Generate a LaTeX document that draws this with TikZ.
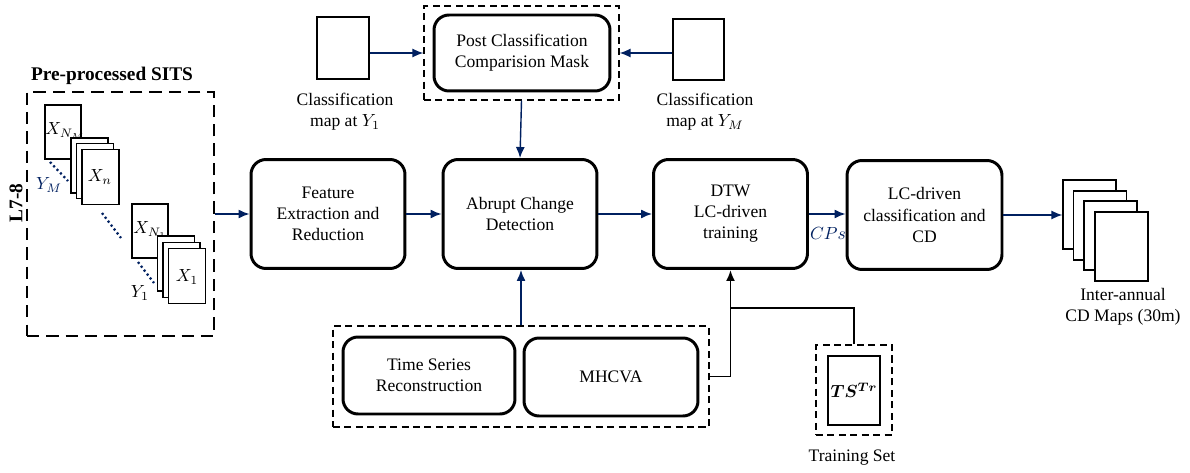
\documentclass[tikz,border=0pt]{standalone}
\usepackage{amsmath}
\usepackage{bm}
\usepackage{fontspec}
\setmainfont{Liberation Serif}
\usetikzlibrary{arrows.meta}

\definecolor{navy}{RGB}{0,32,96}

\tikzset{
  procbox/.style={draw, line width=1.7pt, rounded corners=0.3cm, align=center,
    minimum width=3.08cm, minimum height=2.18cm, font=\fontsize{10}{12}\selectfont},
  dashbox/.style={draw, dashed, line width=0.7pt, dash pattern=on 4pt off 2.5pt,
    minimum width=#1},
  frame/.style={draw, fill=white, line width=0.7pt, inner sep=0pt},
  lbl/.style={align=center, font=\fontsize{10}{12}\selectfont},
  navyarrow/.style={draw=navy, line width=0.8pt, -{Latex[length=2.2mm,width=1.8mm]}},
  blackarrow/.style={draw=black, line width=1.1pt, -{Latex[length=2.2mm,width=1.8mm]}},
  dotline/.style={draw=navy, line width=1.3pt, dash pattern=on 1.2pt off 1.6pt},
}

\begin{document}
\begin{tikzpicture}[x=0.02cm, y=-0.02cm]
  \useasboundingbox (0,0) rectangle (1190,473);

  % Input SITS stack
  \node[draw, line width=1.4pt, dash pattern=on 7pt off 4pt, minimum width=3.74cm,
    minimum height=4.88cm] (sitsbox) at (120.5,214) {};
  \node[lbl, font=\fontsize{11}{13}\selectfont\bfseries] (sitstitle) at (112,76) {Pre-processed SITS};
  \node[lbl, font=\fontsize{11}{13}\selectfont\bfseries, rotate=90] (sensor) at (16,203) {L7-8};

  \node[frame, minimum width=0.72cm, minimum height=1.08cm] (fNM) at (63,132) {};
  \node[anchor=west, inner sep=0pt] (lNM) at (45,131) {$X_{N_M}$};
  \foreach \i/\x/\y in {0/89.5/165.5, 1/95/171, 2/100.5/177}
    \node[frame, minimum width=0.74cm, minimum height=1.1cm] (fn\i) at (\x,\y) {};
  \node (ln) at (100,177) {$X_n$};

  \node[frame, minimum width=0.72cm, minimum height=1.08cm] (fN1) at (150,231) {};
  \node[anchor=west, inner sep=0pt] (lN1) at (133,230) {$X_{N_1}$};
  \foreach \i/\x/\y in {0/176/263.5, 1/181.5/270, 2/187/276}
    \node[frame, minimum width=0.74cm, minimum height=1.1cm] (fo\i) at (\x,\y) {};
  \node (lo) at (187,277) {$X_1$};

  \draw[dotline] (50,162) -- (68,181);
  \draw[dotline] (102,213) -- (121,238);
  \draw[dotline] (138,262) -- (154,283);
  \node[text=navy] (lYM) at (49,185) {$Y_M$};
  \node (lY1) at (140,293) {$Y_1$};

  % Post classification mask
  \node[dashbox=3.9cm, minimum height=1.88cm] (pcbox) at (521.5,53) {};
  \node[procbox, minimum width=3.52cm, minimum height=1.52cm] (post) at (522,53)
    {Post Classification\\Comparision Mask};
  \node[frame, minimum width=1.04cm, minimum height=1.24cm] (cmA) at (343,48) {};
  \node[lbl] (cmAl) at (345,112) {Classification\\map at $Y_1$};
  \node[frame, minimum width=1.02cm, minimum height=1.22cm] (cmB) at (698.5,49.5) {};
  \node[lbl] (cmBl) at (705,112) {Classification\\map at $Y_M$};

  % Main chain
  \node[procbox] (feat) at (328,214) {Feature\\Extraction and\\Reduction};
  \node[procbox] (abrupt) at (520,214) {Abrupt Change\\Detection};
  \node[procbox] (dtw) at (730.5,214) {DTW\\LC-driven\\training};
  \node[procbox, minimum width=3.1cm] (lccd) at (924.5,215) {LC-driven\\classification and\\CD};

  % Output maps
  \foreach \i/\x/\y in {0/1089.5/214.5, 1/1100/225.5, 2/1110.5/235.5, 3/1121.5/246.5}
    \node[frame, minimum width=1.06cm, minimum height=1.38cm] (map\i) at (\x,\y) {};
  \node[lbl] (mapl) at (1123,307) {Inter-annual\\CD Maps (30m)};

  % Reconstruction and MHCVA
  \node[dashbox=7.52cm, minimum height=2.02cm] (recbox) at (521,376.5) {};
  \node[procbox, minimum width=3.44cm, minimum height=1.54cm] (tsr) at (429,375.5)
    {Time Series\\Reconstruction};
  \node[procbox, minimum width=3.48cm, minimum height=1.56cm] (mhcva) at (611,377) {MHCVA};

  % Training set
  \node[dashbox=1.52cm, minimum height=1.8cm] (trbox) at (854,390) {};
  \node[frame, minimum width=1.04cm, minimum height=1.38cm] (trset) at (854,390.5)
    {$\bm{TS^{Tr}}$};
  \node[lbl] (trl) at (852,458) {Training Set};
  \coordinate (join) at (730.5,308);

  % Edges
  \draw[navyarrow] (sitsbox.east) -- (feat.west);
  \draw[navyarrow] (feat) -- (abrupt);
  \draw[navyarrow] (abrupt) -- (dtw);
  \draw[navyarrow] (dtw.east) -- (dtw.east -| lccd.west);
  \node[text=navy] (cps) at (828,233) {$CPs$};
  \draw[navyarrow] (lccd.east) -- (lccd.east -| map0.west);
  \draw[navyarrow] (cmA.east |- pcbox.west) -- (pcbox.west);
  \draw[navyarrow] (cmB.west |- pcbox.east) -- (pcbox.east);
  \draw[navyarrow] (pcbox.south) -- (abrupt.north);
  \draw[navyarrow] (recbox.north) -- (recbox.north |- abrupt.south);
  \draw[blackarrow] (recbox.east) -| (dtw.south);
  \draw[line width=1.1pt] (trbox.north) |- (join);
\end{tikzpicture}
\end{document}
